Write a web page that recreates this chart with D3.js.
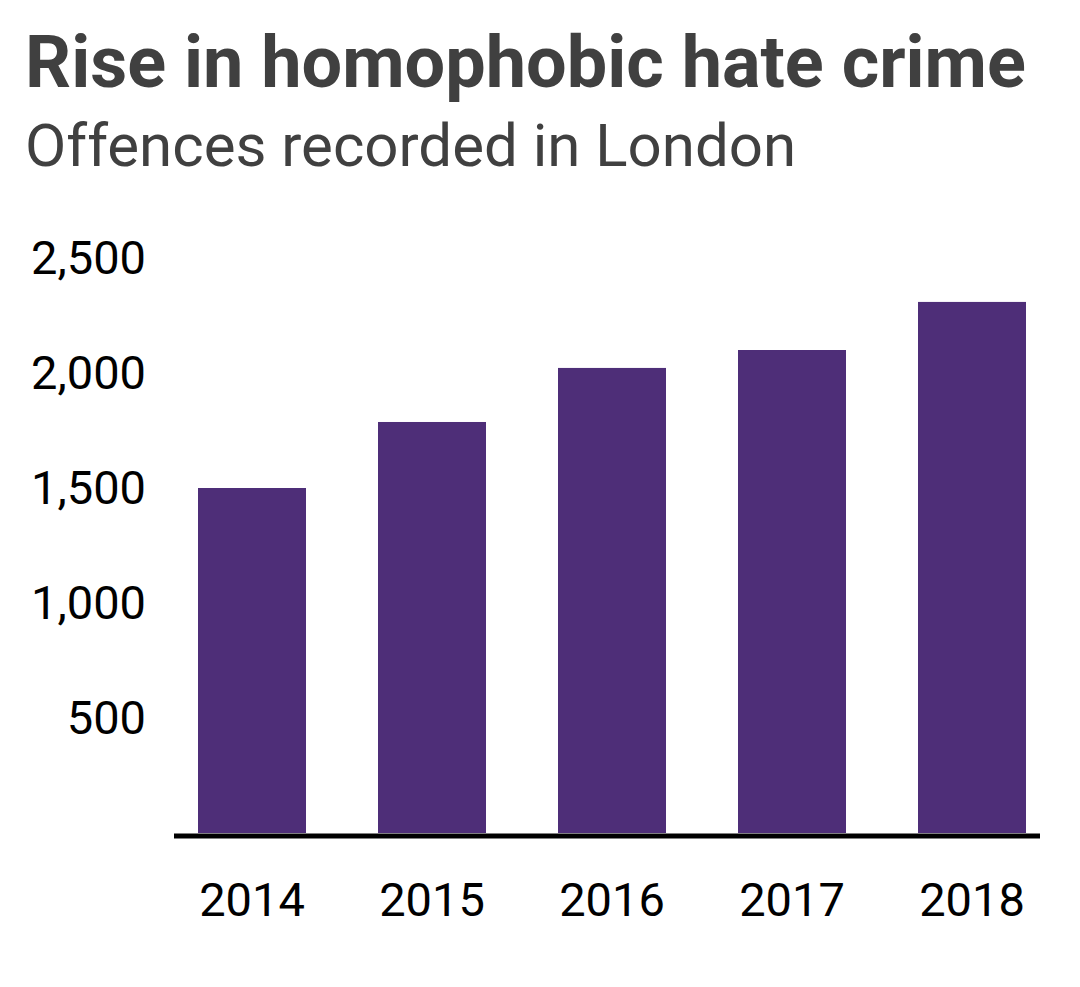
<!DOCTYPE html>
<html>
<head>
<meta charset="utf-8">
<script src="https://d3js.org/d3.v7.min.js"></script>
<style>
  html, body { margin: 0; padding: 0; background: #fff; }
  svg { display: block; font-family: Roboto, "Noto Sans", sans-serif; }
</style>
</head>
<body>
<div id="chart"></div>
<script>
// data
const years = ['2014', '2015', '2016', '2017', '2018'];
const offences = [1500, 1787, 2022, 2100, 2309];
const yTicks = [500, 1000, 1500, 2000, 2500];

const title = 'Rise in homophobic hate crime';
const subtitle = 'Offences recorded in London';

const width = 1080;
const height = 987;

const svg = d3.select('#chart')
  .append('svg')
  .attr('width', width)
  .attr('height', height);

// headings
svg.append('text')
  .attr('x', 25)
  .attr('y', 87)
  .attr('font-size', 72)
  .attr('font-weight', 700)
  .attr('fill', '#404040')
  .text(title);

svg.append('text')
  .attr('x', 25)
  .attr('y', 166)
  .attr('font-size', 60)
  .attr('fill', '#404040')
  .text(subtitle);

const x = d3.scaleBand()
  .domain(years)
  .range([162, 1062])
  .paddingInner(0.4)
  .paddingOuter(0.2);

const y = d3.scaleLinear()
  .domain([0, 2500])
  .range([833, 258]);

// bars
svg.selectAll('rect.bar')
  .data(years)
  .enter()
  .append('rect')
  .attr('class', 'bar')
  .attr('x', (d) => x(d))
  .attr('width', x.bandwidth())
  .attr('y', (d, i) => y(offences[i]))
  .attr('height', (d, i) => y(0) - y(offences[i]))
  .attr('fill', '#4e2e78');

// y axis labels
const yAxis = svg.append('g')
  .attr('transform', 'translate(146,0)')
  .call(d3.axisLeft(y).tickValues(yTicks).tickSize(0).tickPadding(0)
    .tickFormat(d3.format(',')));
yAxis.select('.domain').remove();
yAxis.selectAll('text')
  .attr('font-size', 47)
  .attr('font-family', 'Roboto, sans-serif')
  .attr('fill', '#000');

// x axis labels
const xAxis = svg.append('g')
  .attr('transform', `translate(0,${y(0)})`)
  .call(d3.axisBottom(x).tickSize(0).tickPadding(50));
xAxis.select('.domain').remove();
xAxis.selectAll('text')
  .attr('font-size', 47)
  .attr('font-family', 'Roboto, sans-serif')
  .attr('fill', '#000');

// baseline
svg.append('line')
  .attr('x1', 174)
  .attr('x2', 1040)
  .attr('y1', y(0) + 3)
  .attr('y2', y(0) + 3)
  .attr('stroke', '#000')
  .attr('stroke-width', 5);
</script>
</body>
</html>
